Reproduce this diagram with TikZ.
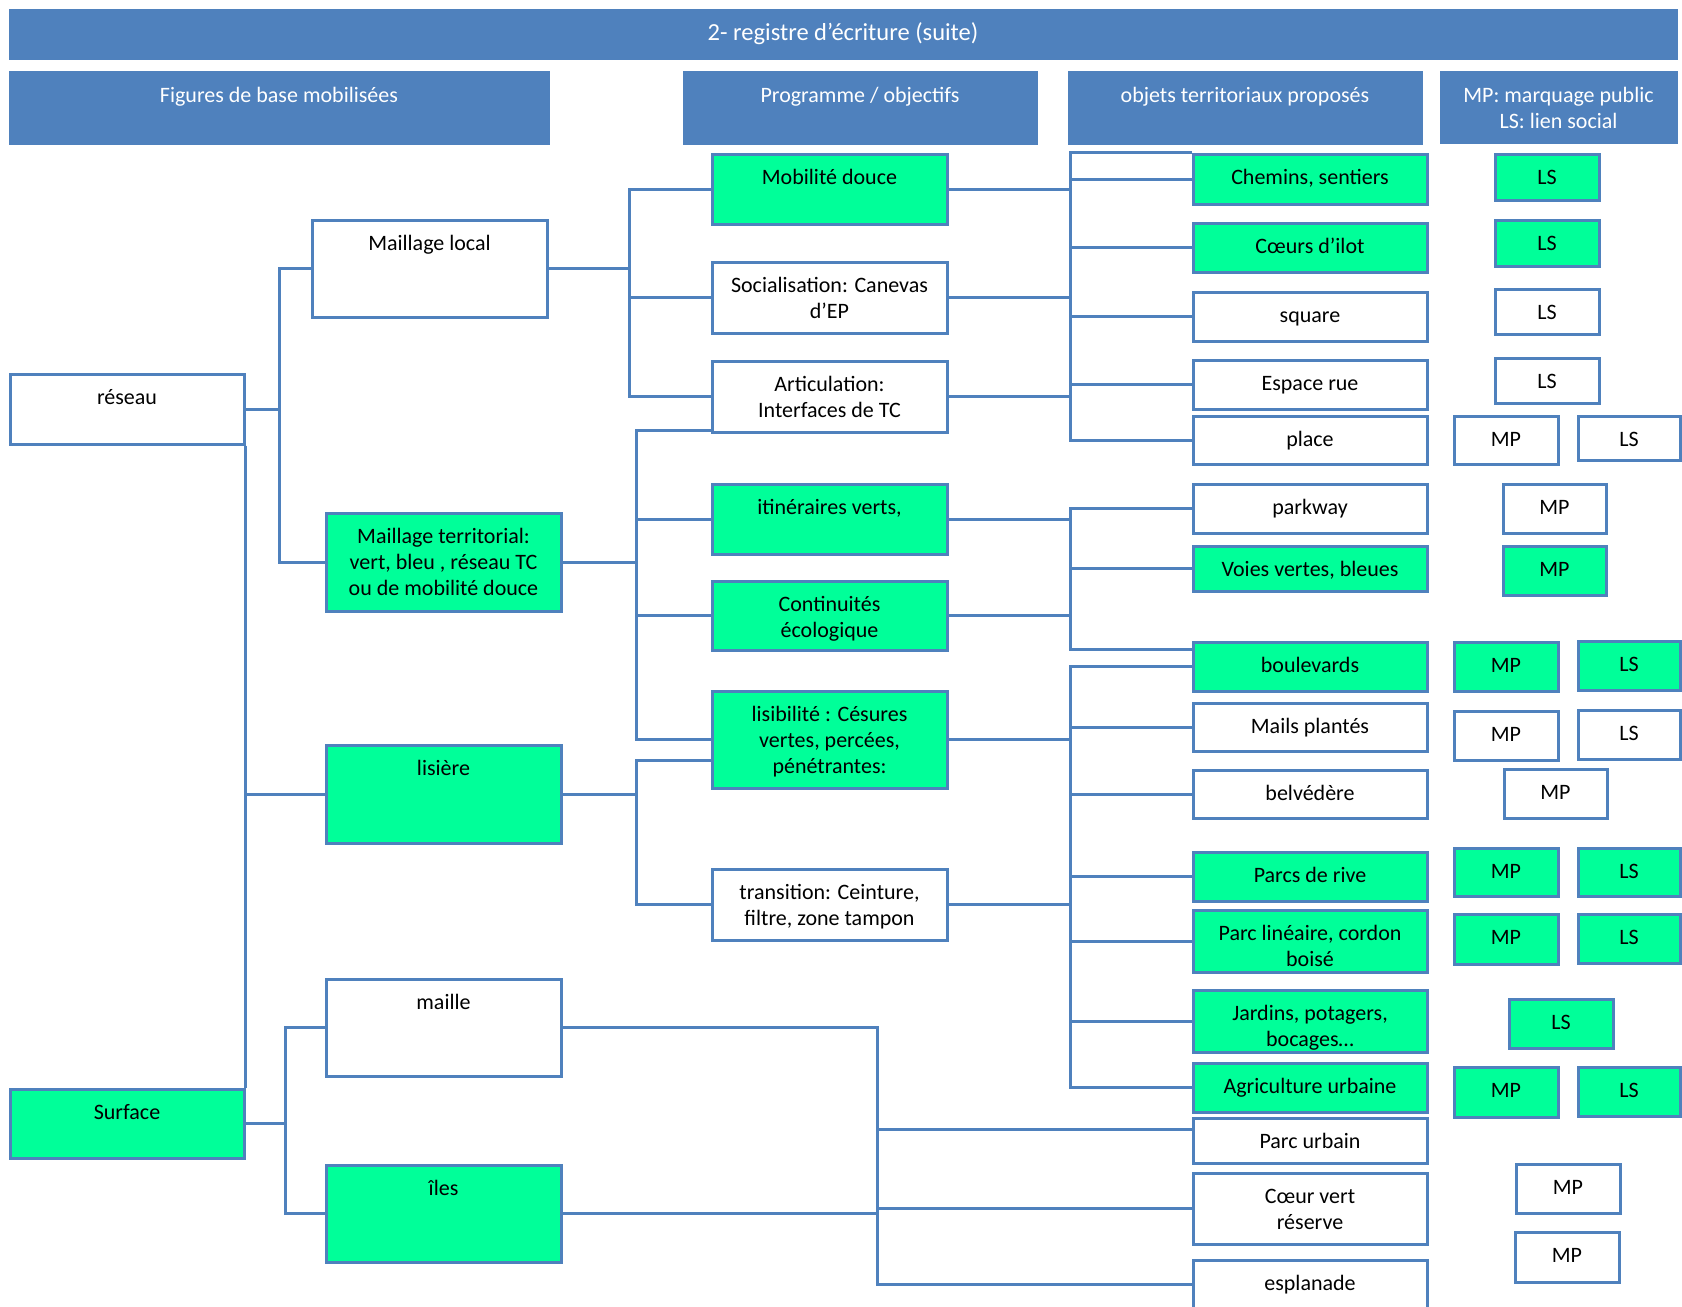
\documentclass[tikz,border=0pt]{standalone}
\usepackage{fontspec}
\setmainfont{Carlito}
\usetikzlibrary{calc}
\definecolor{hdrblue}{HTML}{4F81BD}
\definecolor{mint}{HTML}{00FF99}
\newcommand{\celfont}{\fontsize{22}{26}\selectfont}
% box from (x1,y1) to (x2,y2), text hung from the top
\newcommand{\cell}[8][]{%
  \node[#3,minimum width={#6-#4},minimum height={#7-#5}] (#2) at ({(#4+#6)/2},{(#5+#7)/2}) {};
  \node[celltxt,#1] (#2-t) at (#2.north) {\strut #8};}
\tikzset{
  cellbox/.style={draw=hdrblue,line width=3pt,inner sep=0pt},
  plain/.style={cellbox,fill=white},
  hl/.style={cellbox,fill=mint},
  hdr/.style={fill=hdrblue,draw=hdrblue,line width=1pt,inner sep=0pt},
  celltxt/.style={anchor=north,align=center,inner xsep=2pt,inner ysep=14pt,font=\celfont},
  link/.style={draw=hdrblue,line width=3pt},
}

\begin{document}
\begin{tikzpicture}[x=1pt,y=-1pt]
  \clip (0,0) rectangle (1682,1307);
  % headings
  \cell[text=white,font=\fontsize{24.5}{28}\selectfont,inner ysep=12pt]{title}{hdr}{9}{9}{1677}{59}{2- registre d’écriture (suite)}
  \cell[text=white]{hfig}{hdr}{9}{71}{549}{144}{Figures de base mobilisées}
  \cell[text=white]{hprog}{hdr}{683}{71}{1037}{144}{Programme / objectifs}
  \cell[text=white]{hobj}{hdr}{1068}{71}{1422}{144}{objets territoriaux proposés}
  \cell[text=white]{hmark}{hdr}{1440}{71}{1677}{143}{MP: marquage public\\LS: lien social}
  % figures de base
  \cell{reseau}{plain}{10}{374}{244}{444}{réseau}
  \cell{surface}{hl}{10}{1089}{244}{1158}{Surface}
  \cell{mlocal}{plain}{312}{220}{547}{317}{Maillage local}
  \cell{mterr}{hl}{326}{513}{561}{611}{Maillage territorial:\\vert, bleu , réseau TC\\ou de mobilité douce}
  \cell{lisiere}{hl}{326}{745}{561}{843}{lisière}
  \cell{maille}{plain}{326}{979}{561}{1076}{maille}
  \cell{iles}{hl}{326}{1165}{561}{1262}{îles}
  % programme
  \cell{mobilite}{hl}{712}{154}{947}{224}{Mobilité douce}
  \cell{social}{plain}{712}{262}{947}{333}{Socialisation: Canevas\\d’EP}
  \cell{articul}{plain}{712}{361}{947}{432}{Articulation:\\Interfaces de TC}
  \cell{itin}{hl}{712}{484}{947}{554}{itinéraires verts,}
  \cell{contin}{hl}{712}{581}{947}{650}{Continuités\\écologique}
  \cell{lisib}{hl}{712}{691}{947}{788}{lisibilité : Césures\\vertes, percées,\\pénétrantes:}
  \cell{transit}{plain}{712}{869}{947}{940}{transition: Ceinture,\\filtre, zone tampon}
  % objets
  \cell{chemins}{hl}{1193}{154}{1427}{204}{Chemins, sentiers}
  \cell{coeurs}{hl}{1193}{223}{1427}{272}{Cœurs d’ilot}
  \cell{square}{plain}{1193}{292}{1427}{341}{square}
  \cell{esprue}{plain}{1193}{360}{1427}{409}{Espace rue}
  \cell{place}{plain}{1193}{416}{1427}{464}{place}
  \cell{parkway}{plain}{1193}{484}{1427}{533}{parkway}
  \cell{voies}{hl}{1193}{546}{1427}{591}{Voies vertes, bleues}
  \cell{boulev}{hl}{1193}{642}{1427}{691}{boulevards}
  \cell{mails}{plain}{1193}{703}{1427}{751}{Mails plantés}
  \cell{belved}{plain}{1193}{770}{1427}{818}{belvédère}
  \cell{parcsrive}{hl}{1193}{852}{1427}{901}{Parcs de rive}
  \cell{parclin}{hl}{1193}{910}{1427}{972}{Parc linéaire, cordon\\boisé}
  \cell{jardins}{hl}{1193}{990}{1427}{1052}{Jardins, potagers,\\bocages…}
  \cell{agri}{hl}{1193}{1063}{1427}{1112}{Agriculture urbaine}
  \cell{parcurb}{plain}{1193}{1118}{1427}{1163}{Parc urbain}
  \cell{coeurvert}{plain}{1193}{1173}{1427}{1244}{Cœur vert\\réserve}
  \cell{esplan}{plain}{1193}{1260}{1427}{1309}{esplanade}
  % marquage / lien
  \cell{lsa}{hl}{1495}{154}{1599}{200}{LS}
  \cell{lsb}{hl}{1495}{220}{1599}{266}{LS}
  \cell{lsc}{plain}{1495}{289}{1599}{334}{LS}
  \cell{lsd}{plain}{1495}{358}{1599}{403}{LS}
  \cell{mpe}{plain}{1454}{416}{1558}{464}{MP}
  \cell{lse}{plain}{1578}{416}{1680}{460}{LS}
  \cell{mpf}{plain}{1503}{484}{1606}{533}{MP}
  \cell{mpg}{hl}{1503}{546}{1606}{595}{MP}
  \cell{mph}{hl}{1454}{642}{1558}{691}{MP}
  \cell{lsh}{hl}{1578}{641}{1680}{690}{LS}
  \cell{mpi}{plain}{1454}{711}{1558}{760}{MP}
  \cell{lsi}{plain}{1578}{710}{1680}{759}{LS}
  \cell{mpj}{plain}{1504}{769}{1607}{818}{MP}
  \cell{mpk}{hl}{1454}{848}{1558}{896}{MP}
  \cell{lsk}{hl}{1578}{848}{1680}{896}{LS}
  \cell{mpl}{hl}{1454}{914}{1558}{964}{MP}
  \cell{lsl}{hl}{1578}{914}{1680}{963}{LS}
  \cell{lsm}{hl}{1509}{999}{1613}{1048}{LS}
  \cell{mpn}{hl}{1454}{1067}{1558}{1117}{MP}
  \cell{lsn}{hl}{1578}{1067}{1680}{1116}{LS}
  \cell{mpo}{plain}{1516}{1164}{1620}{1213}{MP}
  \cell{mpp}{plain}{1515}{1232}{1619}{1282}{MP}
  % junctions
  \coordinate (ja) at (279,0);
  \coordinate (jb) at (285,0);
  \coordinate (jc) at (629,0);
  \coordinate (jd) at (636,0);
  \coordinate (je) at (877,0);
  \coordinate (jf) at (1070,0);
  \coordinate (artlow) at (712,430);
  \coordinate (lislow) at (712,760);
  \coordinate (bdtop) at (1193,649);
  \coordinate (purb) at (1193,1129);
  % figures -> figures
  \draw[link] (reseau.east) -- (reseau.east -| ja);
  \draw[link] (mlocal.west) -| (ja |- mterr.west) -- (mterr.west);
  \draw[link] (reseau.south east) -- (surface.north east);
  \draw[link] (lisiere.west) -- (lisiere.west -| reseau.east);
  \draw[link] (surface.east) -- (surface.east -| jb);
  \draw[link] (maille.west) -| (jb |- iles.west) -- (iles.west);
  % figures -> programme
  \draw[link] (mlocal.east) -- (mlocal.east -| jc);
  \draw[link] (mobilite.west) -| (jc |- articul.west) -- (articul.west);
  \draw[link] (social.west) -- (social.west -| jc);
  \draw[link] (mterr.east) -- (mterr.east -| jd);
  \draw[link] (artlow) -| (jd |- lisib.west) -- (lisib.west);
  \draw[link] (itin.west) -- (itin.west -| jd);
  \draw[link] (contin.west) -- (contin.west -| jd);
  \draw[link] (lisiere.east) -- (lisiere.east -| jd);
  \draw[link] (lislow) -| (jd |- transit.west) -- (transit.west);
  % figures -> objets
  \draw[link] (maille.east) -| (je |- esplan.west) -- (esplan.west);
  \draw[link] (iles.east) -- (iles.east -| je);
  \draw[link] (purb) -- (purb -| je);
  \draw[link] (coeurvert.west) -- (coeurvert.west -| je);
  % programme -> objets
  \draw[link] (mobilite.east) -- (mobilite.east -| jf);
  \draw[link] (social.east) -- (social.east -| jf);
  \draw[link] (articul.east) -- (articul.east -| jf);
  \draw[link] (chemins.north west) -| (jf |- place.west) -- (place.west);
  \foreach \n in {chemins,coeurs,square,esprue}
    \draw[link] (\n.west) -- (\n.west -| jf);
  \draw[link] (itin.east) -- (itin.east -| jf);
  \draw[link] (contin.east) -- (contin.east -| jf);
  \draw[link] (parkway.west) -| (jf |- bdtop) -- (bdtop);
  \draw[link] (voies.west) -- (voies.west -| jf);
  \draw[link] (lisib.east) -- (lisib.east -| jf);
  \draw[link] (transit.east) -- (transit.east -| jf);
  \draw[link] (boulev.west) -| (jf |- agri.west) -- (agri.west);
  \foreach \n in {mails,belved,parcsrive,parclin,jardins}
    \draw[link] (\n.west) -- (\n.west -| jf);
\end{tikzpicture}
\end{document}
